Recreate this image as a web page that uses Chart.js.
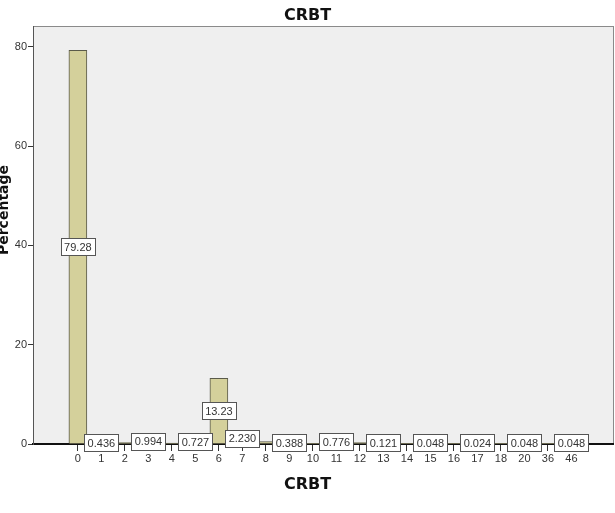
<!DOCTYPE html>
<html>
<head>
<meta charset="utf-8">
<script src="https://cdn.jsdelivr.net/npm/chart.js@4/dist/chart.umd.min.js"></script>
<style>
  html, body { margin: 0; padding: 0; background: #fff; }
  #wrap { width: 615px; height: 513px; }
</style>
</head>
<body>
<div id="wrap"><canvas id="c" width="615" height="513"></canvas></div>
<script>
// -- Data -----------------------------------------------------------------

const categories = ['0', '1', '2', '3', '4', '5', '6', '7', '8', '9', '10',
  '11', '12', '13', '14', '15', '16', '17', '18', '20', '36', '46'];

// percentage per CRBT value (unlabelled ones are estimated from bar heights)
const percentages = [79.28, 0.436, 0.3, 0.994, 0.2, 0.727, 13.23, 2.230, 0.5,
  0.388, 0.15, 0.776, 0.3, 0.121, 0.05, 0.048, 0.05, 0.024, 0.05, 0.048, 0.05, 0.048];

// value labels as printed on the chart (null = hidden by overlap)
const valueLabels = ['79.28', '0.436', null, '0.994', null, '0.727', '13.23', '2.230',
  null, '0.388', null, '0.776', null, '0.121', null, '0.048', null, '0.024', null,
  '0.048', null, '0.048'];

const yTicks = [0, 20, 40, 60, 80];

const chartTitle = 'CRBT';
const xTitle = 'CRBT';
const yTitle = 'Percentage';

// -- Plugins --------------------------------------------------------------

const TITLE_FONT = 'bold 16px "DejaVu Sans", Verdana, sans-serif';

const plotBackground = {
  id: 'plotBackground',
  beforeDraw(chart) {
    const { ctx, chartArea: a } = chart;
    ctx.save();
    ctx.fillStyle = '#efefef';
    ctx.fillRect(a.left, a.top, a.right - a.left, a.bottom - a.top);
    ctx.strokeStyle = '#8a8a8a';
    ctx.lineWidth = 1;
    ctx.strokeRect(a.left + 0.5, a.top + 0.5, a.right - a.left, a.bottom - a.top);
    ctx.restore();
  },
};

// titles are centred on the canvas like the SPSS output, not on the plot area
const titles = {
  id: 'titles',
  afterDraw(chart) {
    const { ctx, width } = chart;
    ctx.save();
    ctx.fillStyle = '#111';
    ctx.textAlign = 'center';
    ctx.textBaseline = 'middle';
    ctx.font = TITLE_FONT;
    ctx.fillText(chartTitle, width / 2, 16);
    ctx.fillText(xTitle, width / 2, 485);
    ctx.translate(4, 210);
    ctx.rotate(-Math.PI / 2);
    ctx.font = 'bold 14px "DejaVu Sans", Verdana, sans-serif';
    ctx.fillText(yTitle, 0, 0);
    ctx.restore();
  },
};

const boxedLabels = {
  id: 'boxedLabels',
  afterDatasetsDraw(chart) {
    const { ctx } = chart;
    const meta = chart.getDatasetMeta(0);
    ctx.save();
    ctx.font = '11px "Liberation Sans", Arial, sans-serif';
    ctx.textAlign = 'center';
    ctx.textBaseline = 'middle';
    meta.data.forEach((bar, i) => {
      const text = valueLabels[i];
      if (!text) return;
      const cy = Math.min((bar.y + bar.base) / 2, bar.base - 1);
      const w = Math.ceil(ctx.measureText(text).width) + 6;
      const h = 17;
      const x0 = Math.round(bar.x - w / 2) + 0.5;
      const y0 = Math.round(cy - h / 2) + 0.5;
      ctx.fillStyle = '#ffffff';
      ctx.fillRect(x0, y0, w, h);
      ctx.strokeStyle = '#555';
      ctx.lineWidth = 1;
      ctx.strokeRect(x0, y0, w, h);
      ctx.fillStyle = '#333';
      ctx.fillText(text, bar.x, cy + 1);
    });
    ctx.restore();
  },
};

// -- Chart ----------------------------------------------------------------

Chart.defaults.font.family = '"Liberation Sans", Arial, sans-serif';
Chart.defaults.animation = false;

new Chart(document.getElementById('c'), {
  type: 'bar',
  data: {
    datasets: [{
      data: percentages.map((v, i) => ({ x: i, y: v })),
      backgroundColor: '#d4d09b',
      borderColor: '#5a5a4a',
      borderWidth: 1,
      borderSkipped: 'bottom',
      barThickness: 18,
    }],
  },
  options: {
    responsive: false,
    layout: { padding: { top: 26, right: 2, bottom: 0, left: 0 } },
    scales: {
      x: {
        type: 'linear',
        offset: false,
        min: -1.91,
        max: 22.77,
        afterBuildTicks(scale) {
          scale.ticks = categories.map((_, i) => ({ value: i }));
        },
        afterFit(scale) { scale.height = 69; },
        grid: { drawOnChartArea: false, offset: false, tickLength: 7, color: '#333' },
        border: { color: '#111', width: 2 },
        ticks: {
          color: '#333',
          font: { size: 11 },
          padding: 1,
          maxRotation: 0,
          autoSkip: false,
          callback: (v) => categories[v],
        },
      },
      y: {
        min: 0,
        max: 84.2,
        afterBuildTicks(scale) {
          scale.ticks = yTicks.map((v) => ({ value: v }));
        },
        afterFit(scale) { scale.width = 33; },
        grid: { drawOnChartArea: false, tickLength: 5, color: '#333' },
        border: { color: '#555', width: 1 },
        ticks: { color: '#333', font: { size: 11 }, padding: 1 },
      },
    },
    plugins: {
      legend: { display: false },
      tooltip: { enabled: false },
      title: { display: false },
    },
  },
  plugins: [plotBackground, boxedLabels, titles],
});
</script>
</body>
</html>
